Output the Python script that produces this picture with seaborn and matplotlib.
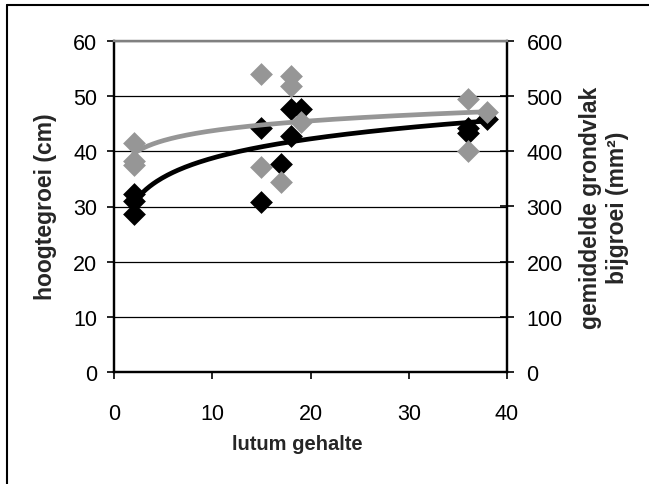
import numpy as np
import pandas as pd
import seaborn as sns
import matplotlib.pyplot as plt
from matplotlib.lines import Line2D

# lutum gehalte per meting
lutum = [2, 2, 2, 15, 15, 17, 18, 18, 19, 36, 36, 38]
# hoogtegroei (cm), linker as
hoogtegroei = [32.3, 31.0, 28.6, 44.3, 30.8, 37.7, 47.7, 42.8, 47.7, 44.3, 43.3, 45.9]
# gemiddelde grondvlak bijgroei (mm2), rechter as
grondvlak = [416, 382, 376, 540, 371, 344, 537, 519, 453, 495, 401, 471]

BLACK = "#000000"
GREY = "#969696"

df = pd.DataFrame({"lutum": lutum, "hoogte": hoogtegroei, "grondvlak": grondvlak})


def log_trend(x, y):
    """Excel-style logarithmic trendline y = a*ln(x) + b."""
    a, b = np.polyfit(np.log(x), y, 1)
    xs = np.linspace(min(x), max(x), 200)
    return pd.DataFrame({"x": xs, "y": a * np.log(xs) + b})


sns.set_theme(style="white")
plt.rcParams["font.family"] = ["Liberation Sans", "DejaVu Sans"]

fig = plt.figure(figsize=(6.49, 4.85), dpi=100)
ax = fig.add_axes([114 / 649, 1 - 373 / 485, (507 - 114) / 649, (373 - 42) / 485])
ax2 = ax.twinx()

sns.scatterplot(data=df, x="lutum", y="hoogte", ax=ax, marker="D", s=135,
                color=BLACK, linewidth=0, zorder=3)
sns.lineplot(data=log_trend(df["lutum"], df["hoogte"]), x="x", y="y", ax=ax,
             color=BLACK, linewidth=3.4, zorder=4)
sns.scatterplot(data=df, x="lutum", y="grondvlak", ax=ax2, marker="D", s=135,
                color=GREY, linewidth=0, zorder=3)
sns.lineplot(data=log_trend(df["lutum"], df["grondvlak"]), x="x", y="y", ax=ax2,
             color=GREY, linewidth=3.4, zorder=4)

ax.set_xlim(0, 40)
ax.set_ylim(0, 60)
ax2.set_ylim(0, 600)
ax.set_xticks([0, 10, 20, 30, 40])
ax.set_yticks(range(0, 61, 10))
ax2.set_yticks(range(0, 601, 100))

ax.yaxis.grid(True, color=BLACK, linewidth=0.9)
ax.set_axisbelow(True)
ax2.grid(False)

for a in (ax, ax2):
    for side in ("left", "right", "bottom"):
        a.spines[side].set_color(BLACK)
        a.spines[side].set_linewidth(1.6)
    a.spines["top"].set_color("#808080")
    a.spines["top"].set_linewidth(1.6)
    a.set_xlabel("")
    a.set_ylabel("")

ax.tick_params(axis="y", direction="out", length=5, width=1.2, pad=7,
               labelsize=15.5, colors=BLACK, left=True)
ax.tick_params(axis="x", direction="out", length=5, width=1.2, pad=17,
               labelsize=15.5, colors=BLACK, bottom=True)
ax2.tick_params(axis="y", direction="inout", length=10, width=1.2, pad=9,
                labelsize=15.5, colors=BLACK, right=True)

fig.text(46 / 649, 1 - 207 / 485, "hoogtegroei (cm)", rotation=90,
         ha="center", va="center", fontsize=16.5, fontweight="bold")
fig.text(604 / 649, 1 - 208 / 485, "gemiddelde grondvlak\nbijgroei (mm²)",
         rotation=90, ha="center", va="center", fontsize=16.5,
         fontweight="bold", linespacing=1.25)
fig.text(297 / 649, 1 - 445 / 485, "lutum gehalte", ha="center", va="center",
         fontsize=14.5, fontweight="bold")

# chart border: only its left and top edges fall inside the picture
bx, by = 7 / 649, 1 - 6 / 485
fig.add_artist(Line2D([bx, bx], [0, by], transform=fig.transFigure,
                      color=BLACK, linewidth=1.5))
fig.add_artist(Line2D([bx, 1], [by, by], transform=fig.transFigure,
                      color=BLACK, linewidth=1.5))

fig.savefig("out.png", dpi=100)
